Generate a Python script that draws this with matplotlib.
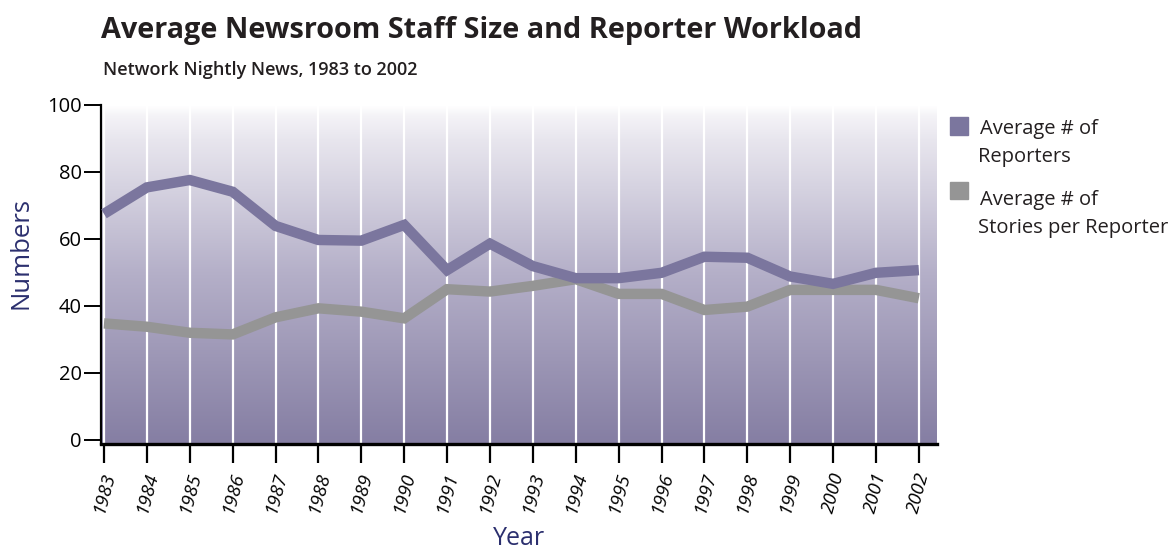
"""Average newsroom staff size and reporter workload, network nightly news."""

import numpy as np
import matplotlib.pyplot as plt
from matplotlib.colors import LinearSegmentedColormap
from matplotlib.patches import Rectangle

YEARS = list(range(1983, 2003))
REPORTERS = [67.5, 75.4, 77.6, 74.1, 63.9, 59.7, 59.5, 64.2, 50.7, 58.6,
             51.9, 48.3, 48.3, 49.9, 54.7, 54.4, 48.8, 46.6, 49.9, 50.7]
STORIES = [34.8, 33.8, 32.0, 31.5, 36.6, 39.3, 38.3, 36.3, 45.0, 44.3,
           46.0, 48.0, 43.6, 43.6, 38.8, 39.8, 44.8, 44.8, 44.8, 42.3]
LEGEND_LABELS = [("Average # of", "Reporters"),
                 ("Average # of", "Stories per Reporter")]

PURPLE = "#7b769e"
GREY = "#959595"
NAVY = "#2b2f6e"
INK = "#231f20"
FONT = "Open Sans"


def main():
    fig = plt.figure(figsize=(11.74, 5.54), dpi=100)
    ax = fig.add_axes([0.0860, 0.1986, 0.7120, 0.6119])

    ax.set_xlim(1982.93, 2002.42)
    ax.set_ylim(-1.2, 100)

    # vertical gradient background, near white at top down to purple
    cmap = LinearSegmentedColormap.from_list(
        "bg", [(0.0, "#857ea3"), (0.5, "#b4afc8"), (0.9, "#e8e6ee"),
               (0.97, "#f4f3f7"), (1.0, "#ffffff")])
    grad = np.linspace(0, 1, 256).reshape(-1, 1)
    ax.imshow(grad, cmap=cmap, origin="lower", aspect="auto",
              extent=[1982.93, 2002.42, -1.2, 100], zorder=0)

    for yr in YEARS:
        ax.axvline(yr, color="white", lw=1.6, zorder=1)

    ax.plot(YEARS, REPORTERS, color=PURPLE, lw=7.5, solid_joinstyle="miter",
            solid_capstyle="butt", zorder=3)
    ax.plot(YEARS, STORIES, color=GREY, lw=7.5, solid_joinstyle="miter",
            solid_capstyle="butt", zorder=2)

    for s in ("top", "right"):
        ax.spines[s].set_visible(False)
    ax.spines["left"].set_linewidth(1.6)
    ax.spines["bottom"].set_linewidth(2.4)

    ax.set_yticks([0, 20, 40, 60, 80, 100])
    ax.set_xticks(YEARS)
    ax.set_xticklabels([str(y) for y in YEARS], rotation=75, fontstyle="italic",
                       fontsize=13.5, family=FONT, ha="center", va="top")
    ax.tick_params(axis="y", length=12, width=1.4, labelsize=14.5, pad=2)
    ax.tick_params(axis="x", length=14, width=1.6, pad=5)
    for lbl in ax.get_yticklabels():
        lbl.set_family(FONT)

    ax.set_ylabel("Numbers", fontsize=18.5, color=NAVY, family=FONT)
    ax.yaxis.set_label_coords(-0.081, 0.563)
    ax.set_xlabel("Year", fontsize=18, color=NAVY, family=FONT, labelpad=8)

    fig.text(0.086, 0.945, "Average Newsroom Staff Size and Reporter Workload",
             fontsize=20.8, fontweight="bold", family=FONT, va="center",
             color=INK)
    fig.text(0.088, 0.873, "Network Nightly News, 1983 to 2002", fontsize=13,
             fontweight="semibold", family=FONT, va="center", color=INK)

    # legend drawn by hand in figure coordinates
    for i, (lines, col) in enumerate(zip(LEGEND_LABELS, [PURPLE, GREY])):
        y0 = 0.757 - i * 0.117
        fig.patches.append(Rectangle((0.809, y0), 0.0155, 0.031, color=col,
                                     transform=fig.transFigure, figure=fig))
        for j, line in enumerate(lines):
            fig.text(0.833 + 0.002 * (j == 0),
                     y0 + 0.010 - 0.011 * i - j * 0.051, line,
                     fontsize=14.5, family=FONT, va="center", color=INK)

    plt.savefig("out.png", dpi=100)


if __name__ == "__main__":
    main()
